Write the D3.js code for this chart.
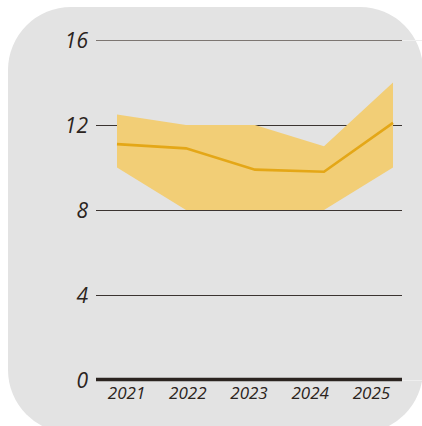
<!DOCTYPE html>
<html>
<head>
<meta charset="utf-8">
<script src="https://cdn.jsdelivr.net/npm/d3@7"></script>
<style>
  body { margin: 0; background: #fff; }
  svg text { font-family: "Open Sans", sans-serif; font-style: italic; fill: #2b2420; }
</style>
</head>
<body>
<script>
// chart data
var years = ["2021", "2022", "2023", "2024", "2025"];
var mid = [11.1, 10.9, 9.9, 9.8, 12.1];
var upper = [12.5, 12, 12, 11, 14];
var lower = [10, 8, 8, 8, 10];
var yTicks = [0, 4, 8, 12, 16];

var width = 422,
  height = 426;

var svg = d3
  .select("body")
  .append("svg")
  .attr("width", width)
  .attr("height", height);

// rounded grey panel
svg
  .append("rect")
  .attr("x", 8)
  .attr("y", 7)
  .attr("width", 415)
  .attr("height", 426)
  .attr("rx", 63)
  .attr("fill", "#e3e3e3");

var y = d3.scaleLinear().domain([0, 16]).range([380, 40]);
var xPts = d3.scalePoint().domain(years).range([117, 393]);
var xBand = d3.scaleBand().domain(years).range([96, 402]);

// faint extensions of top and bottom gridlines
svg
  .selectAll("line.ext")
  .data([0, 16])
  .enter()
  .append("line")
  .attr("class", "ext")
  .attr("x1", 402)
  .attr("x2", 422)
  .attr("y1", d => y(d) + 0.5)
  .attr("y2", d => y(d) + 0.5)
  .attr("stroke", "#eeeeee")
  .attr("stroke-width", 1);

// gridlines (crisp, 1px)
svg
  .append("g")
  .selectAll("line")
  .data(yTicks.filter(d => d > 0))
  .enter()
  .append("line")
  .attr("x1", 96)
  .attr("x2", 402)
  .attr("y1", d => y(d) + 0.5)
  .attr("y2", d => y(d) + 0.5)
  .attr("stroke", d => (d === 16 ? "#7d7672" : "#3b3431"))
  .attr("stroke-width", 1);

// band
var area = d3
  .area()
  .x((d, i) => xPts(years[i]))
  .y0((d, i) => y(lower[i]))
  .y1((d, i) => y(upper[i]));
svg
  .append("path")
  .datum(years)
  .attr("d", area)
  .attr("fill", "#f2ce76");

// middle line
var line = d3
  .line()
  .x((d, i) => xPts(years[i]))
  .y(d => y(d));
svg
  .append("path")
  .datum(mid)
  .attr("d", line)
  .attr("fill", "none")
  .attr("stroke", "#e4a717")
  .attr("stroke-width", 2.6);

// baseline
svg
  .append("line")
  .attr("x1", 96)
  .attr("x2", 402)
  .attr("y1", y(0) - 0.5)
  .attr("y2", y(0) - 0.5)
  .attr("stroke", "#2b2420")
  .attr("stroke-width", 3.5);

// y labels
svg
  .append("g")
  .selectAll("text")
  .data(yTicks)
  .enter()
  .append("text")
  .attr("x", 88)
  .attr("y", d => y(d))
  .attr("dy", "0.36em")
  .attr("text-anchor", "end")
  .style("font-size", "21px")
  .text(d => d);

// year labels
svg
  .append("g")
  .selectAll("text")
  .data(years)
  .enter()
  .append("text")
  .attr("x", d => xBand(d) + xBand.bandwidth() / 2)
  .attr("y", 399)
  .attr("text-anchor", "middle")
  .style("font-size", "17px")
  .text(d => d);
</script>
</body>
</html>
